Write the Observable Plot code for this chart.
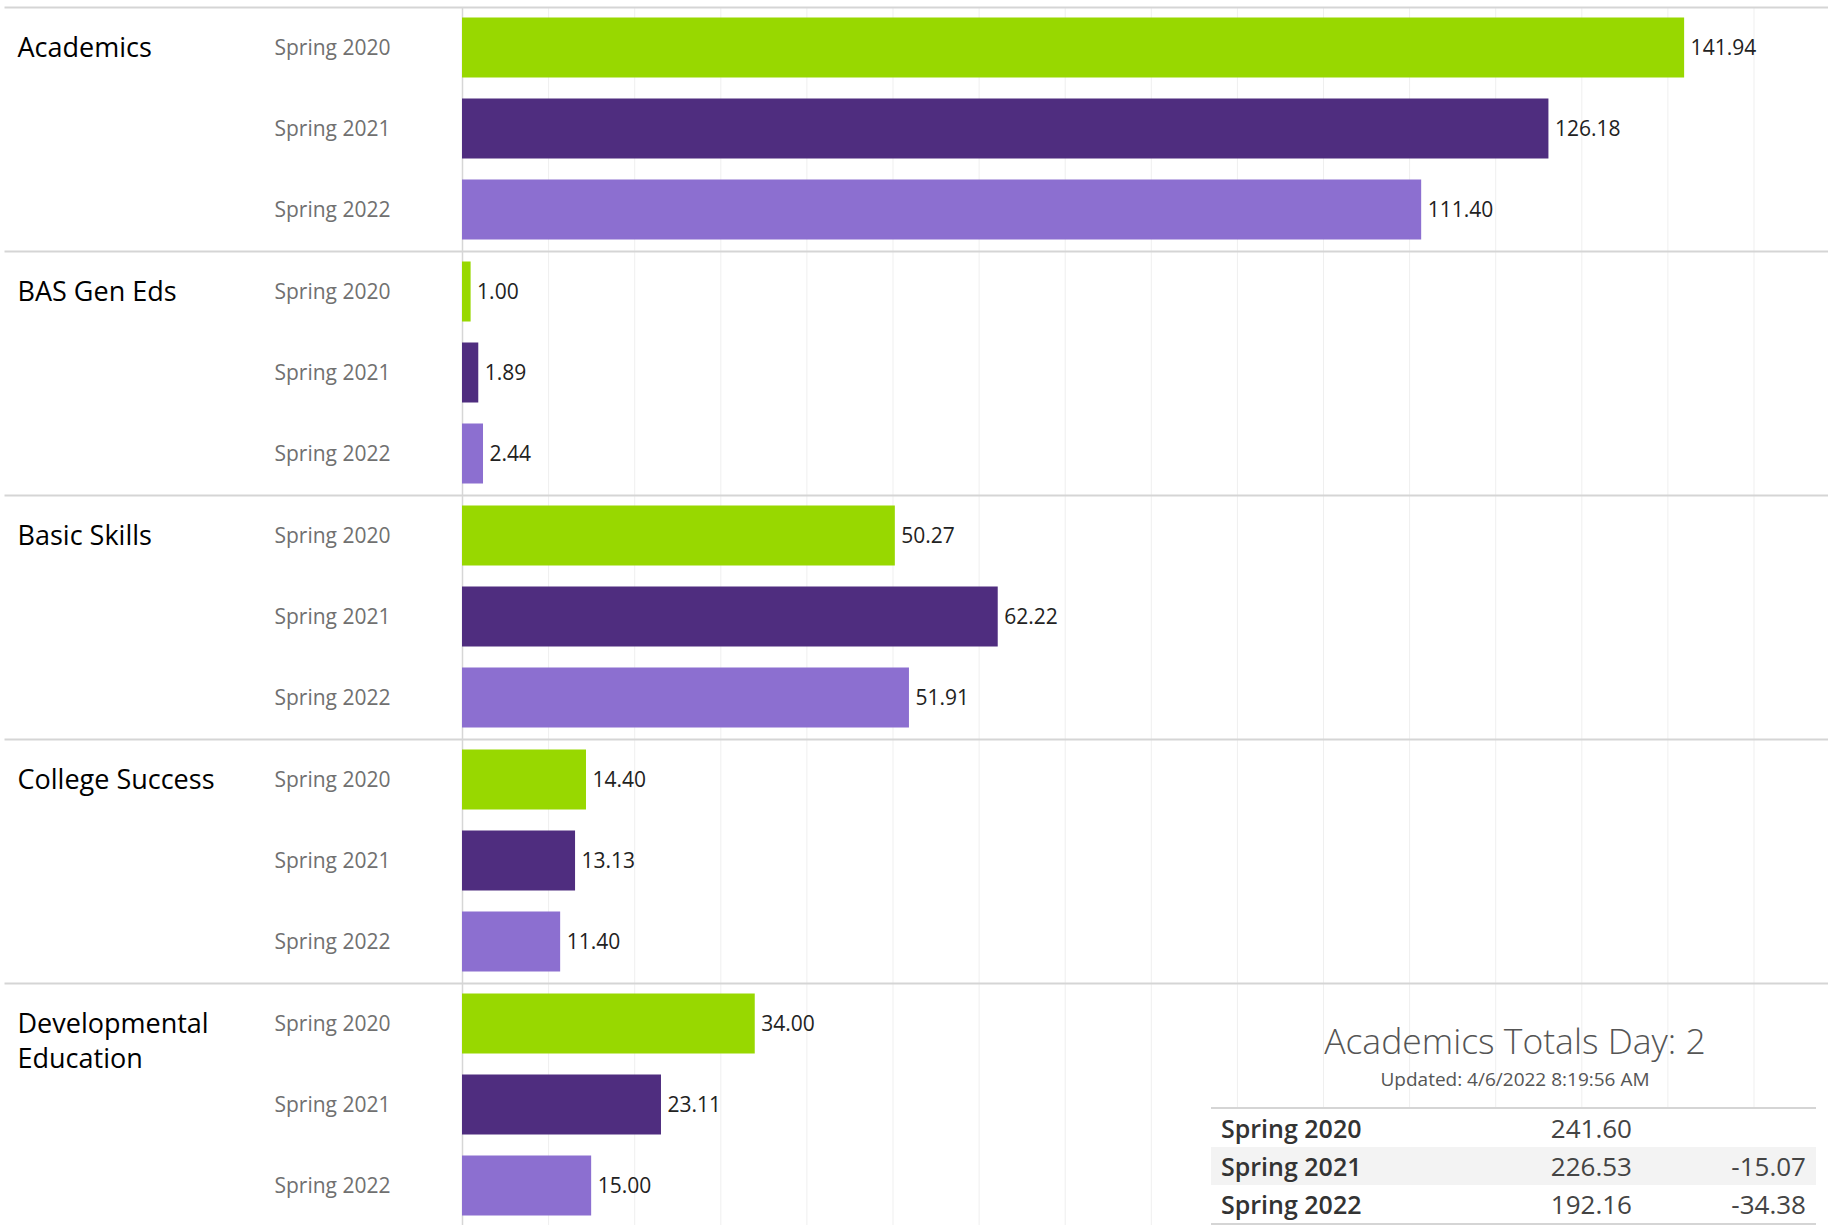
<!DOCTYPE html>
<html>
<head>
<meta charset="utf-8">
<script src="https://cdn.jsdelivr.net/npm/d3@7"></script>
<script src="https://cdn.jsdelivr.net/npm/@observablehq/plot@0.6"></script>
<style>
  html, body { margin: 0; padding: 0; overflow: hidden; background: #fff; }
  #wrap { position: relative; width: 1828px; height: 1225px; font-family: 'Open Sans', sans-serif; }
  #title { position: absolute; left: 1215px; width: 600px; top: 1023px; text-align: center; font-size: 35.5px; line-height: 35px; font-weight: 300; color: #555; white-space: nowrap; }
  #updated { position: absolute; left: 1315px; width: 400px; top: 1070px; text-align: center; font-size: 19px; line-height: 19px; color: #555; white-space: nowrap; }
  #totals { position: absolute; left: 1211px; top: 1107px; width: 605px; border-top: 2px solid #d5d5d5; border-bottom: 2px solid #d5d5d5; background: #fff; }
  .row { position: relative; height: 38px; line-height: 38px; font-size: 26px; }
  .row.alt { background: #f3f3f3; }
  .row .lab { position: absolute; left: 10px; font-size: 25px; font-weight: 600; color: #333; }
  .row .val { position: absolute; right: 184px; color: #444; }
  .row .chg { position: absolute; right: 10px; color: #444; }
</style>
</head>
<body>
<div id="wrap">
  <div id="chart"></div>
  <div id="title"></div>
  <div id="updated"></div>
  <div id="totals"></div>
</div>
<script>
const categories = ["Academics", "BAS Gen Eds", "Basic Skills", "College Success", "Developmental Education"];
const years = ["Spring 2020", "Spring 2021", "Spring 2022"];
const spring2020 = [141.94, 1.00, 50.27, 14.40, 34.00];
const spring2021 = [126.18, 1.89, 62.22, 13.13, 23.11];
const spring2022 = [111.40, 2.44, 51.91, 11.40, 15.00];
const yearColors = ["#98d800", "#4f2d7f", "#8c6fd0"];
const gridTicks = [10, 20, 30, 40, 50, 60, 70, 80, 90, 100, 110, 120, 130, 140, 150];

const totalsTitle = "Academics Totals Day: 2";
const totalsUpdated = "Updated: 4/6/2022 8:19:56 AM";
const totalYears = ["Spring 2020", "Spring 2021", "Spring 2022"];
const totalValues = [241.60, 226.53, 192.16];
const totalChanges = [null, -15.07, -34.38];

const series = [spring2020, spring2021, spring2022];
const data = categories.flatMap((c, i) => years.map((y, j) => ({category: c, year: y, value: series[j][i]})));

const chart = Plot.plot({
  width: 1828,
  height: 1229,
  marginTop: 4.5,
  marginBottom: 0,
  marginLeft: 462,
  marginRight: 0,
  style: {fontFamily: "'Open Sans', sans-serif", background: "white"},
  x: {domain: [0, 158.65], axis: null},
  y: {domain: years, paddingInner: 0.256, paddingOuter: 0.128, axis: null},
  fy: {domain: categories, padding: 0, axis: null},
  color: {domain: years, range: yearColors},
  marks: [
    Plot.ruleX(gridTicks, {stroke: "#efefef", strokeWidth: 1}),
    Plot.frame({anchor: "top", insetLeft: -457, stroke: "#d5d5d5", strokeWidth: 2}),
    Plot.ruleX([0], {stroke: "#d6d6d6", strokeWidth: 1.5}),
    Plot.barX(data, {x: "value", y: "year", fy: "category", fill: "year"}),
    Plot.text(data, {x: "value", y: "year", fy: "category", text: d => d.value.toFixed(2), textAnchor: "start", dx: 6, fontSize: 21, fill: "#222"}),
    Plot.axisY({tickSize: 0, tickPadding: 72, fontSize: 21, color: "#707070", label: null}),
    Plot.text(categories, {fy: d => d, y: () => years[0], frameAnchor: "left", dx: -445, textAnchor: "start", lineAnchor: "top", dy: -17, lineWidth: 10, lineHeight: 1.33, fontSize: 27, fill: "#000"})
  ]
});
document.getElementById("chart").appendChild(chart);

document.getElementById("title").textContent = totalsTitle;
document.getElementById("updated").textContent = totalsUpdated;
const tbl = document.getElementById("totals");
totalYears.forEach((y, i) => {
  const row = document.createElement("div");
  row.className = "row" + (i === 1 ? " alt" : "");
  const lab = document.createElement("span"); lab.className = "lab"; lab.textContent = y;
  const val = document.createElement("span"); val.className = "val"; val.textContent = totalValues[i].toFixed(2);
  row.appendChild(lab); row.appendChild(val);
  if (totalChanges[i] != null) {
    const chg = document.createElement("span"); chg.className = "chg"; chg.textContent = totalChanges[i].toFixed(2);
    row.appendChild(chg);
  }
  tbl.appendChild(row);
});
</script>
</body>
</html>
